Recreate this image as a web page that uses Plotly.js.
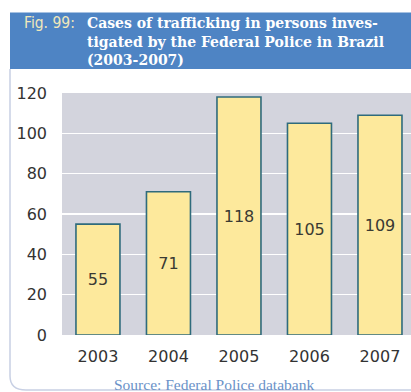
<!DOCTYPE html>
<html>
<head>
<meta charset="utf-8">
<script src="https://cdn.plot.ly/plotly-3.0.1.min.js"></script>
<style>html,body{margin:0;padding:0;background:#fff;}#chart{width:411px;height:392px;}</style>
</head>
<body>
<div id="chart"></div>
<script>
const years = ['2003', '2004', '2005', '2006', '2007'];
const cases = [55, 71, 118, 105, 109];
const yTicks = [0, 20, 40, 60, 80, 100, 120];
const figLabel = 'Fig. 99:';
const titleLines = ['Cases of trafficking in persons inves-', 'tigated by the Federal Police in Brazil', '(2003-2007)'];
const sourceText = 'Source: Federal Police databank';

const W = 411, H = 392;
const L = 62, R = 0, T = 93, B = 57;
const pw = W - L - R, ph = H - T - B;
const px = x => (x - L) / pw;
const py = y => (H - B - y) / ph;

const sansFont = 'DejaVu Sans, Arial, sans-serif';

const trace = {
  type: 'bar',
  x: years,
  y: cases,
  text: cases.map(String),
  textposition: 'inside',
  insidetextanchor: 'middle',
  textangle: 0,
  textfont: {family: sansFont, size: 16, color: '#3a3a33'},
  marker: {color: '#fde99c', line: {color: '#2f6b7c', width: 1.6}},
  hoverinfo: 'none',
  cliponaxis: false
};

const titleAnnotations = titleLines.map((line, i) => ({
  xref: 'paper', yref: 'paper', x: px(85), y: py(23 + i * 18.5),
  xanchor: 'left', yanchor: 'middle', align: 'left',
  text: '<b>' + line + '</b>', showarrow: false,
  font: {family: 'DejaVu Serif, Liberation Serif, serif', size: 14, color: '#ffffff'}
}));

const layout = {
  width: W, height: H,
  margin: {l: L, r: R, t: T, b: B, pad: 0},
  paper_bgcolor: '#ffffff',
  plot_bgcolor: '#d3d4dd',
  showlegend: false,
  bargap: 0.376,
  font: {family: sansFont, size: 16, color: '#333333'},
  xaxis: {
    type: 'category', range: [-0.51, 4.44], showgrid: false, zeroline: false,
    showline: false, ticks: '', ticklabelstandoff: 10, fixedrange: true,
    tickfont: {family: sansFont, size: 16, color: '#333333'}
  },
  yaxis: {
    range: [0, 120], tickvals: yTicks, ticktext: yTicks.map(String),
    showgrid: true, gridcolor: '#ffffff', gridwidth: 1.5, zeroline: false,
    showline: false, ticks: '', ticklabelstandoff: 14, fixedrange: true,
    tickfont: {family: sansFont, size: 16, color: '#333333'}
  },
  shapes: [
    {type: 'rect', xref: 'paper', yref: 'paper', x0: px(10), x1: px(412), y0: py(69), y1: py(12.5),
     fillcolor: '#4e84c4', line: {width: 0}, layer: 'below'},
    {type: 'path', xref: 'paper', yref: 'paper',
     path: 'M ' + px(10) + ',' + py(69) + ' L ' + px(10) + ',' + py(376) +
           ' Q ' + px(10) + ',' + py(390) + ' ' + px(26) + ',' + py(390) +
           ' L ' + px(412) + ',' + py(390),
     line: {color: '#c8d0e4', width: 1.5}}
  ],
  annotations: [
    {xref: 'paper', yref: 'paper', x: px(22), y: py(23), xanchor: 'left', yanchor: 'middle',
     text: figLabel, showarrow: false,
     font: {family: 'DejaVu Sans Condensed, Liberation Sans Narrow, sans-serif', size: 15.5, color: '#f1e8bb'}},
    ...titleAnnotations,
    {xref: 'paper', yref: 'paper', x: px(214), y: py(384), xanchor: 'center', yanchor: 'middle',
     text: sourceText, showarrow: false,
     font: {family: 'Liberation Serif, DejaVu Serif, serif', size: 15.5, color: '#6a92c8'}}
  ]
};

Plotly.newPlot('chart', [trace], layout, {staticPlot: true, displayModeBar: false});
</script>
</body>
</html>
